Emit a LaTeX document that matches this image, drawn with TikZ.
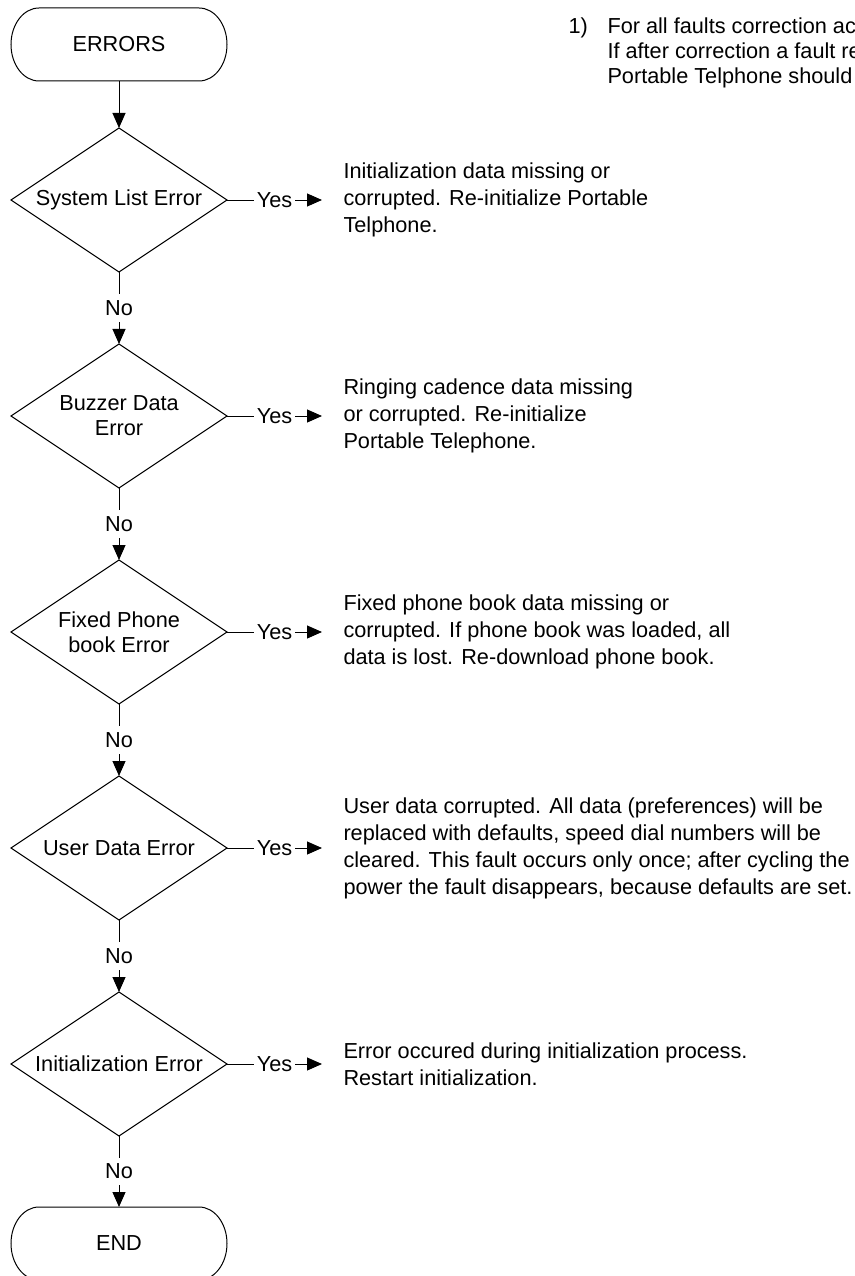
\documentclass[tikz,border=0pt]{standalone}
\usepackage{fontspec}
\setmainfont{Liberation Sans}
\usetikzlibrary{shapes.geometric,arrows.meta}
\newcommand\termoutline[1]{%
  \draw ([xshift=28pt]#1.north west) -- ([xshift=-28pt]#1.north east)
    .. controls +(15.5pt,0pt) and +(0pt,20.2pt) .. (#1.east)
    .. controls +(0pt,-20.2pt) and +(15.5pt,0pt) .. ([xshift=-28pt]#1.south east)
    -- ([xshift=28pt]#1.south west)
    .. controls +(-15.5pt,0pt) and +(0pt,-20.2pt) .. (#1.west)
    .. controls +(0pt,20.2pt) and +(-15.5pt,0pt) .. ([xshift=28pt]#1.north west) -- cycle;}
\begin{document}
\begin{tikzpicture}[x=1pt,y=1pt,line width=1pt,
  font=\fontsize{21.7}{27}\selectfont,
  decision/.style={draw, diamond, shape aspect=1.5, minimum width=216pt, minimum height=144pt,
    inner sep=0pt, outer sep=0pt, align=center, font=\fontsize{21.7}{25}\selectfont},
  term/.style={rectangle, minimum width=216pt, minimum height=73pt, inner sep=0pt, outer sep=0pt},
  arr/.style={-{Triangle[length=15pt,width=13pt]}},
  lab/.style={fill=white, inner xsep=3pt, inner ysep=6pt},
  desc/.style={anchor=west, align=left, inner sep=0pt},
  notetext/.style={anchor=base west, inner sep=0pt}]
\useasboundingbox (0,0) rectangle (854,-1276);
\clip (0,0) rectangle (854,-1276);

% terminals
\node[term] (errors) at (119,-44.5) {ERRORS};
\termoutline{errors}
\node[term] (endn) at (119,-1243.5) {END};
\termoutline{endn}

% decisions
\node[decision] (d1) at (119,-200) {System List Error};
\node[decision] (d2) at (119,-416) {Buzzer Data\\Error};
\node[decision] (d3) at (119,-632) {Fixed Phone\\book Error};
\node[decision] (d4) at (119,-848) {User Data Error};
\node[decision] (d5) at (119,-1064) {Initialization Error};

% descriptions
\node[desc] (t1) at (343,-200) {Initialization data missing or\\corrupted. Re-initialize Portable\\Telphone.};
\node[desc] (t2) at (343,-416) {Ringing cadence data missing\\or corrupted.  Re-initialize\\Portable Telephone.};
\node[desc] (t3) at (343,-632) {Fixed phone book data missing or\\corrupted.  If phone book was loaded, all\\data is lost.  Re-download phone book.};
\node[desc] (t4) at (343,-848) {User data corrupted.  All data (preferences) will be\\replaced with defaults, speed dial numbers will be\\cleared. This fault occurs only once; after cycling the\\power the fault disappears, because defaults are set.};
\node[desc] (t5) at (343,-1064) {Error occured during initialization process.\\Restart initialization.};

% note
\node[notetext] (n0) at (568,-33.3) {1)};
\node[notetext] (n1) at (607,-33.3) {For all faults correction act};
\node[notetext] (n2) at (607,-58.3) {If after correction a fault re};
\node[notetext] (n3) at (607,-83.3) {Portable Telphone should};

% yes arrow ends
\coordinate (y1) at (322,-200);
\coordinate (y2) at (322,-416);
\coordinate (y3) at (322,-632);
\coordinate (y4) at (322,-848);
\coordinate (y5) at (322,-1064);

% connectors
\draw[arr] (errors) -- (d1);
\draw[arr] (d1) -- node[lab]{No} (d2);
\draw[arr] (d2) -- node[lab]{No} (d3);
\draw[arr] (d3) -- node[lab]{No} (d4);
\draw[arr] (d4) -- node[lab]{No} (d5);
\draw[arr] (d5) -- node[lab]{No} (endn);

\draw[arr] (d1.east) -- node[lab]{Yes} (y1);
\draw[arr] (d2.east) -- node[lab]{Yes} (y2);
\draw[arr] (d3.east) -- node[lab]{Yes} (y3);
\draw[arr] (d4.east) -- node[lab]{Yes} (y4);
\draw[arr] (d5.east) -- node[lab]{Yes} (y5);
\end{tikzpicture}
\end{document}
